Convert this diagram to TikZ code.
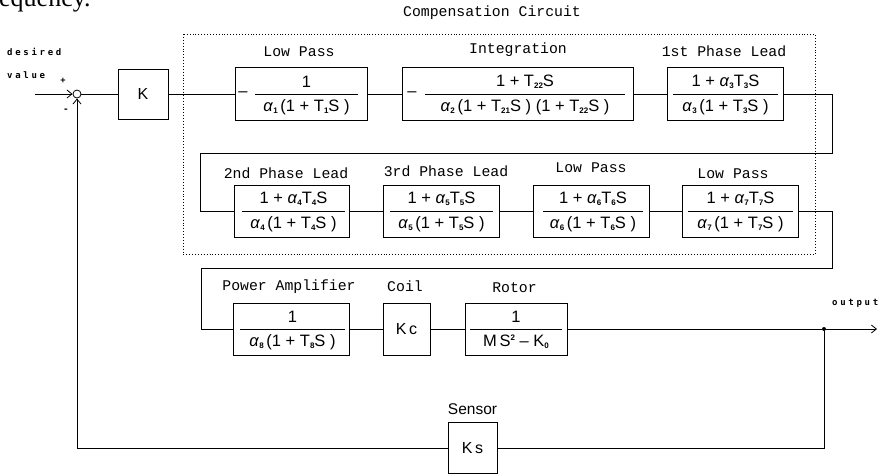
\documentclass[tikz,border=0pt]{standalone}
\usepackage{fontspec}
\setmainfont{Liberation Sans}
\newfontfamily\monof{Liberation Mono}
\newfontfamily\dotf[LetterSpace=30]{DejaVu Sans Mono}
\newfontfamily\serf{Liberation Serif}
\usetikzlibrary{arrows.meta,calc}
\newcommand\subd[1]{\raisebox{-2pt}{\fontsize{8}{8}\selectfont\bfseries #1}}
\newcommand\al{\textit{α}}
\newcommand\tfblock[9]{%
  \node[blk,minimum width=#4,minimum height=#5] (#1) at (#2,#3) {};
  \coordinate (#1l) at (#6,#3);
  \coordinate (#1r) at (#7,#3);
  \draw[fr] (#1l) -- (#1r);
  \node[ftxt] (#1n) at ($(#1l)!0.5!(#1r)+(0,-12.5)$) {#8};
  \node[ftxt] (#1d) at ($(#1l)!0.5!(#1r)+(0,13)$) {#9};
}
\tikzset{
  blk/.style={draw,line width=1pt,inner sep=0pt},
  fr/.style={line width=0.9pt},
  ln/.style={line width=0.8pt},
  ftxt/.style={font=\fontsize{16.5}{16.5}\selectfont,inner sep=0pt},
  lbl/.style={font=\monof\fontsize{14.8}{15}\selectfont,inner sep=0pt},
  dlbl/.style={font=\dotf\bfseries\fontsize{9}{9}\selectfont,inner sep=0pt,anchor=west},
  arr/.style={ln,-{Straight Barb[length=5pt,width=8pt]}},
}
\begin{document}
\begin{tikzpicture}[x=1pt,y=-1pt]
\useasboundingbox (0,0) rectangle (880,475);
% fragment of surrounding text
\node[font=\serf\fontsize{26}{26}\selectfont,inner sep=0pt,anchor=base west] (frag) at (-1,6) {equency.};
% compensation circuit frame
\node[lbl] (comp) at (492,13) {Compensation Circuit};
\draw[dotted,line width=0.9pt] (183,34) rectangle (815,254);
% input
\node[dlbl] (des) at (7,52) {desired};
\node[dlbl] (val) at (7,75) {value};
\node[font=\bfseries\fontsize{9}{9}\selectfont,inner sep=0pt] (plus) at (63,81) {+};
\node[font=\bfseries\fontsize{11}{11}\selectfont,inner sep=0pt] (minus) at (66,111) {-};
\coordinate (in) at (35,94);
\node[draw,circle,line width=0.8pt,minimum size=8pt,inner sep=0pt] (sum) at (77,94) {};
\node[blk,minimum width=50,minimum height=50,font=\fontsize{16}{16}\selectfont] (K) at (143,94) {K};
% row 1
\node[lbl] (tlp1) at (299,52) {Low Pass};
\tfblock{lp1}{301}{94}{132}{53}{255}{358}{1}{\al\subd{1}\,(1 + T\subd{1}S )}
\node[ftxt] (lp1m) at (243,94) {–};
\node[lbl] (tint) at (518,50) {Integration};
\tfblock{int}{517.5}{94}{231}{53}{425}{625}{1 + T\subd{22}S}{\al\subd{2}\,(1 + T\subd{21}S ) (1 + T\subd{22}S )}
\node[ftxt] (intm) at (412,94) {–};
\node[lbl] (tpl1) at (724,51) {1st Phase Lead};
\tfblock{pl1}{725}{94}{116}{53}{673}{778}{1 + \al\subd{3}T\subd{3}S}{\al\subd{3}\,(1 + T\subd{3}S )}
% row 2
\node[lbl] (tpl2) at (286,173) {2nd Phase Lead};
\tfblock{pl2}{291.5}{211}{115}{52}{242}{345}{1 + \al\subd{4}T\subd{4}S}{\al\subd{4}\,(1 + T\subd{4}S )}
\node[lbl] (tpl3) at (446,171) {3rd Phase Lead};
\tfblock{pl3}{441}{211}{116}{52}{390}{493}{1 + \al\subd{5}T\subd{5}S}{\al\subd{5}\,(1 + T\subd{5}S )}
\node[lbl] (tlp3) at (591,168) {Low Pass};
\tfblock{lp3}{591}{211}{116}{52}{543}{643}{1 + \al\subd{6}T\subd{6}S}{\al\subd{6}\,(1 + T\subd{6}S )}
\node[lbl] (tlp4) at (733,174) {Low Pass};
\tfblock{lp4}{740}{211}{116}{52}{688}{793}{1 + \al\subd{7}T\subd{7}S}{\al\subd{7}\,(1 + T\subd{7}S )}
% row 3
\node[lbl] (tpa) at (289,287) {Power Amplifier};
\tfblock{pa}{291}{329}{116}{52}{240}{345}{1}{\al\subd{8}\,(1 + T\subd{8}S )}
\node[lbl] (tkc) at (405,286) {Coil};
\node[blk,minimum width=47,minimum height=52,font=\fontsize{16}{16}\selectfont] (kc) at (406.5,329) {K\,c};
\node[lbl] (trot) at (514.5,288) {Rotor};
\tfblock{rot}{516}{329}{102}{52}{470}{562}{1}{M\,S\raisebox{6pt}{\fontsize{8}{8}\selectfont\bfseries 2} – K\subd{0}}
% output
\node[dlbl] (outl) at (832,303) {output};
\node[circle,fill,inner sep=0pt,minimum size=4pt] (odot) at (824,329) {};
\coordinate (oend) at (877,329);
% sensor
\node[font=\fontsize{15.5}{15.5}\selectfont,inner sep=0pt] (tks) at (472.5,409) {Sensor};
\node[blk,minimum width=49,minimum height=51,font=\fontsize{16}{16}\selectfont] (ks) at (472.5,448) {K\,s};
% route coordinates
\coordinate (r1a) at (832,94);
\coordinate (r1b) at (832,153);
\coordinate (r1c) at (200,153);
\coordinate (r1d) at (200,211);
\coordinate (r2a) at (832,211);
\coordinate (r2b) at (832,268);
\coordinate (r2c) at (201,268);
\coordinate (r2d) at (201,329);
\coordinate (fb) at (77,448);
% connectors
\draw[arr] (in) -- (sum.west);
\draw[ln] (sum.east) -- (K.west);
\draw[ln] (K.east) -- (lp1.west);
\draw[ln] (lp1.east) -- (int.west);
\draw[ln] (int.east) -- (pl1.west);
\draw[ln] (pl1.east) -- (r1a) -- (r1b) -- (r1c) -- (r1d) -- (pl2.west);
\draw[ln] (pl2.east) -- (pl3.west);
\draw[ln] (pl3.east) -- (lp3.west);
\draw[ln] (lp3.east) -- (lp4.west);
\draw[ln] (lp4.east) -- (r2a) -- (r2b) -- (r2c) -- (r2d) -- (pa.west);
\draw[ln] (pa.east) -- (kc.west);
\draw[ln] (kc.east) -- (rot.west);
\draw[ln] (rot.east) -- (odot);
\draw[arr] (odot) -- (oend);
\draw[ln] (odot) |- (ks.east);
\draw[arr] (ks.west) -- (fb) -- (sum.south);
\end{tikzpicture}
\end{document}
